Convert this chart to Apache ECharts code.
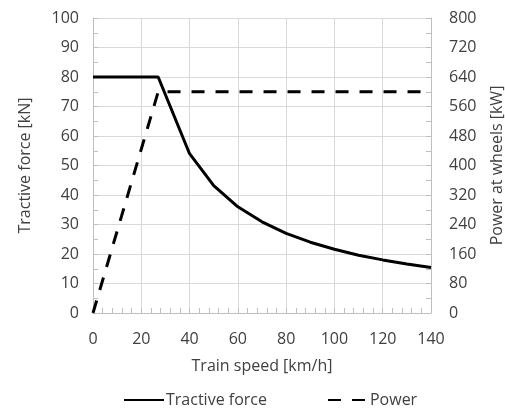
<!DOCTYPE html>
<html>
<head>
<meta charset="utf-8">
<script src="https://cdn.jsdelivr.net/npm/echarts@6/dist/echarts.min.js"></script>
<style>
  html, body { margin: 0; padding: 0; background: #fff; }
  #chart { width: 505px; height: 410px; }
</style>
</head>
<body>
<div id="chart"></div>
<script>
// speed [km/h] and tractive force [kN]
const forceSpeed = [0, 10, 20, 27, 40, 50, 60, 70, 80, 90, 100, 110, 120, 130, 140];
const forceValues = [80, 80, 80, 80, 54, 43.2, 36, 30.9, 27, 24, 21.6, 19.6, 18, 16.6, 15.4];
// speed [km/h] and power at wheels [kW]
const powerSpeed = [0, 27, 40, 60, 80, 100, 120, 140];
const powerValues = [0, 600, 600, 600, 600, 600, 600, 600];

const textColor = "#404040";
const font = "'Open Sans', Lato, sans-serif";
const fs = 16;

const chart = echarts.init(document.getElementById("chart"));

const tick = { show: true, inside: true, length: 5, lineStyle: { color: "#bfbfbf" } };

chart.setOption({
  animation: false,
  textStyle: { fontFamily: font, color: textColor },
  grid: { left: 93, right: 74, top: 18, bottom: 97, outerBoundsMode: "none" },
  legend: {
    bottom: -3,
    left: 118,
    itemWidth: 40,
    itemHeight: 12,
    itemGap: 60,
    itemStyle: { opacity: 0 },
    textStyle: { fontSize: fs, color: textColor, fontFamily: font, padding: [0, 0, 0, -3] },
    data: ["Tractive force", "Power"]
  },
  xAxis: {
    type: "value",
    min: 0,
    max: 140,
    interval: 20,
    name: "Train speed [km/h]",
    nameLocation: "middle",
    nameGap: 45,
    nameTextStyle: { fontSize: fs, color: textColor },
    axisLine: { show: true, lineStyle: { color: "#bfbfbf" } },
    axisTick: tick,
    minorTick: { show: true, splitNumber: 5, length: 5, lineStyle: { color: "#bfbfbf" } },
    axisLabel: { fontSize: fs, color: textColor, margin: 18 },
    splitLine: { show: true, lineStyle: { color: "#d9d9d9" } }
  },
  yAxis: [
    {
      type: "value",
      min: 0,
      max: 100,
      interval: 10,
      name: "Tractive force [kN]",
      nameLocation: "middle",
      nameGap: 60,
      nameTextStyle: { fontSize: fs, color: textColor },
      axisLine: { show: true, lineStyle: { color: "#bfbfbf" } },
      axisTick: tick,
      minorTick: { show: true, splitNumber: 2, length: 5, lineStyle: { color: "#bfbfbf" } },
      axisLabel: { fontSize: fs, color: textColor, margin: 14 },
      splitLine: { show: true, lineStyle: { color: "#d9d9d9" } }
    },
    {
      type: "value",
      min: 0,
      max: 800,
      interval: 80,
      position: "right",
      name: "Power at wheels [kW]",
      nameLocation: "middle",
      nameGap: 58,
      nameTextStyle: { fontSize: fs, color: textColor },
      axisLine: { show: true, lineStyle: { color: "#bfbfbf" } },
      axisTick: tick,
      minorTick: { show: true, splitNumber: 2, length: 5, lineStyle: { color: "#bfbfbf" } },
      axisLabel: { fontSize: fs, color: textColor, margin: 18 },
      splitLine: { show: false }
    }
  ],
  series: [
    {
      name: "Tractive force",
      type: "line",
      yAxisIndex: 0,
      symbol: "none",
      itemStyle: { color: "#000" },
      lineStyle: { color: "#000", width: 3 },
      data: forceSpeed.map((v, i) => [v, forceValues[i]])
    },
    {
      name: "Power",
      type: "line",
      yAxisIndex: 1,
      symbol: "none",
      itemStyle: { color: "#000" },
      lineStyle: { color: "#000", width: 3, type: [13, 11] },
      data: powerSpeed.map((v, i) => [v, powerValues[i]])
    }
  ]
});
</script>
</body>
</html>
